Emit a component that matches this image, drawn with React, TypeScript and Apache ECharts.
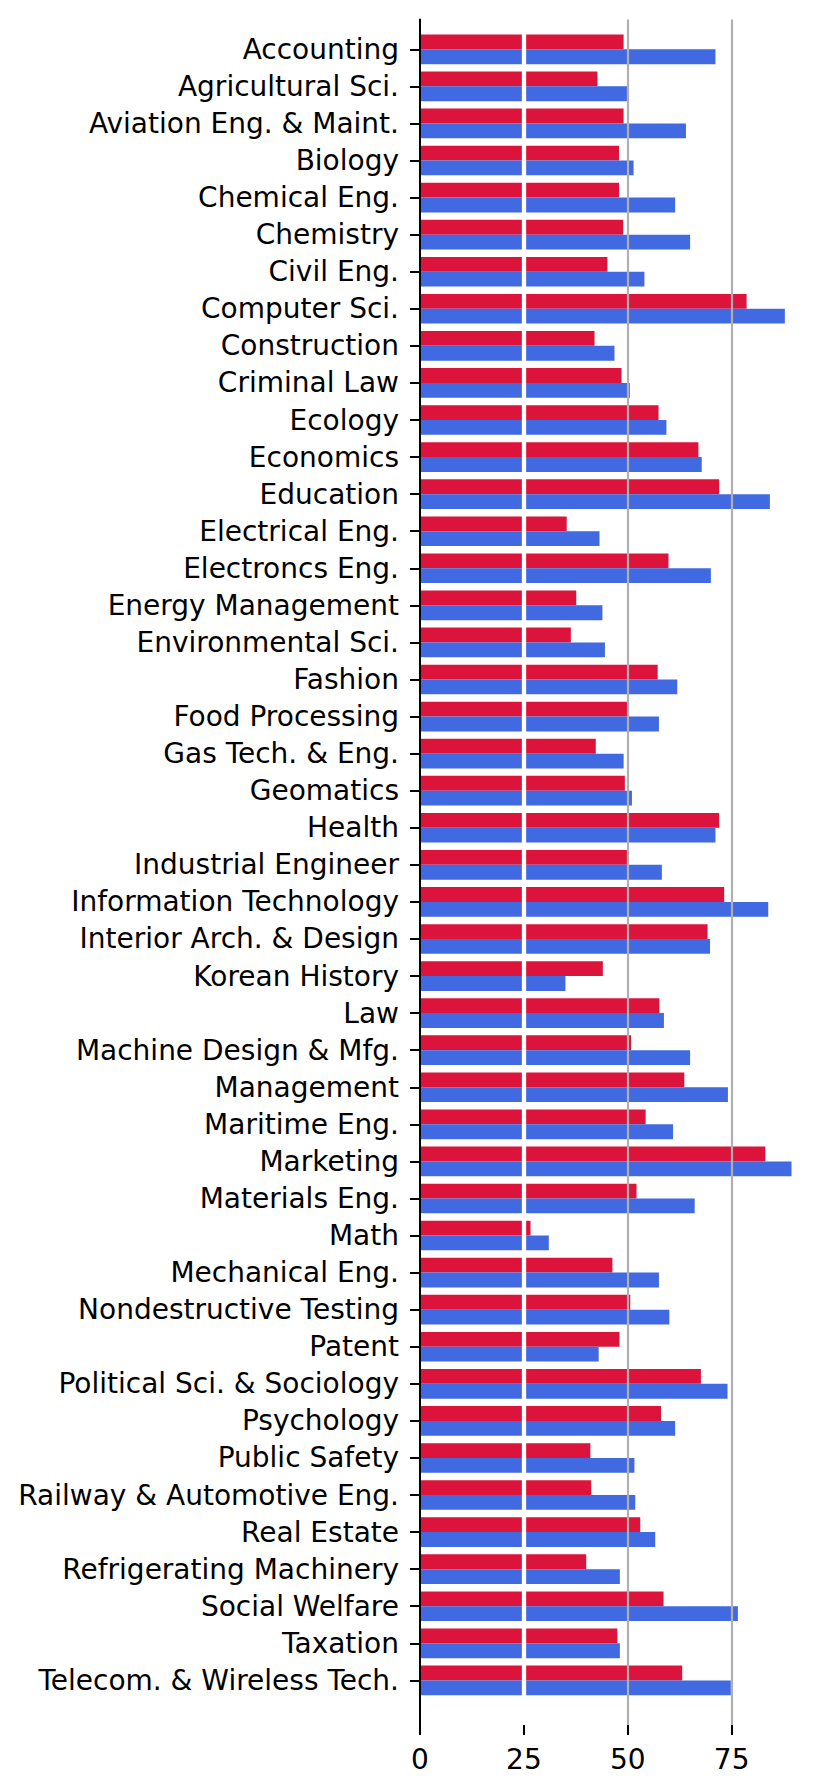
import React, { useEffect, useRef } from "react";
import * as echarts from "echarts";

const categories = [
  "Accounting", "Agricultural Sci.", "Aviation Eng. & Maint.", "Biology", "Chemical Eng.",
  "Chemistry", "Civil Eng.", "Computer Sci.", "Construction", "Criminal Law",
  "Ecology", "Economics", "Education", "Electrical Eng.", "Electroncs Eng.",
  "Energy Management", "Environmental Sci.", "Fashion", "Food Processing", "Gas Tech. & Eng.",
  "Geomatics", "Health", "Industrial Engineer", "Information Technology", "Interior Arch. & Design",
  "Korean History", "Law", "Machine Design & Mfg.", "Management", "Maritime Eng.",
  "Marketing", "Materials Eng.", "Math", "Mechanical Eng.", "Nondestructive Testing",
  "Patent", "Political Sci. & Sociology", "Psychology", "Public Safety", "Railway & Automotive Eng.",
  "Real Estate", "Refrigerating Machinery", "Social Welfare", "Taxation", "Telecom. & Wireless Tech.",
];

const redValues = [
  49.0, 42.7, 49.0, 47.9, 47.9,
  48.9, 45.1, 78.6, 42.0, 48.5,
  57.4, 67.0, 72.0, 35.3, 59.8,
  37.6, 36.3, 57.2, 50.1, 42.3,
  49.3, 72.0, 49.8, 73.2, 69.2,
  44.0, 57.6, 50.8, 63.6, 54.3,
  83.1, 52.1, 26.6, 46.3, 50.6,
  48.0, 67.6, 58.0, 41.0, 41.2,
  53.0, 40.0, 58.6, 47.5, 63.1,
];

const blueValues = [
  71.1, 49.8, 64.0, 51.4, 61.4,
  65.0, 54.0, 87.8, 46.8, 50.5,
  59.3, 67.8, 84.2, 43.2, 70.0,
  43.9, 44.5, 61.9, 57.5, 49.0,
  51.0, 71.1, 58.2, 83.8, 69.8,
  35.0, 58.7, 65.0, 74.1, 60.9,
  89.4, 66.1, 31.0, 57.5, 60.0,
  43.0, 74.0, 61.4, 51.6, 51.8,
  56.6, 48.1, 76.5, 48.1, 74.8,
];

const xTicks = [0, 25, 50, 75];
const xMax = 93.9;
const whiteLineAt = [25];

export default function App() {
  const ref = useRef<HTMLDivElement>(null);

  useEffect(() => {
    if (!ref.current) return;
    const chart = echarts.init(ref.current, null, { renderer: "svg" });
    const left = 420;
    const width = 390.2;
    const pitch = 37.07;
    const firstCenter = 49.3;
    const gridATop = firstCenter - pitch / 2;
    const gridAHeight = pitch * categories.length;
    const axesTop = 19.5;
    const axesBottom = 1725;

    chart.setOption({
      animation: false,
      backgroundColor: "#ffffff",
      textStyle: { fontFamily: "DejaVu Sans" },
      grid: [
        { left, width, top: gridATop, height: gridAHeight },
        { left, width, top: axesTop, height: axesBottom - axesTop },
      ],
      xAxis: [
        {
          type: "value",
          gridIndex: 0,
          min: 0,
          max: xMax,
          show: false,
        },
        {
          type: "value",
          gridIndex: 1,
          min: 0,
          max: xMax,
          interval: 25,
          position: "bottom",
          z: 4,
          axisLine: { show: false },
          axisTick: {
            show: true,
            length: 10,
            customValues: xTicks,
            lineStyle: { color: "#000000", width: 2 },
          },
          axisLabel: {
            customValues: xTicks,
            fontSize: 28,
            color: "#000000",
            fontFamily: "DejaVu Sans",
            margin: 20,
          },
          splitLine: {
            show: true,
            lineStyle: {
              color: ["rgba(0,0,0,0)", "rgba(0,0,0,0)", "#b0b0b0", "#b0b0b0", "rgba(0,0,0,0)"],
              width: 2.2,
            },
          },
        },
      ],
      yAxis: [
        {
          type: "category",
          gridIndex: 0,
          inverse: true,
          data: categories,
          axisLine: { show: false },
          axisTick: {
            show: true,
            alignWithLabel: true,
            length: 10,
            lineStyle: { color: "#000000", width: 2 },
          },
          axisLabel: {
            fontSize: 28,
            color: "#000000",
            fontFamily: "DejaVu Sans",
            margin: 21,
            interval: 0,
          },
          splitLine: { show: false },
        },
        {
          type: "value",
          gridIndex: 1,
          min: 0,
          max: 1,
          z: 4,
          axisLine: { show: true, onZero: false, lineStyle: { color: "#000000", width: 2 } },
          axisTick: { show: false },
          axisLabel: { show: false },
          splitLine: { show: false },
        },
      ],
      series: [
        {
          name: "Group 1",
          type: "bar",
          xAxisIndex: 0,
          yAxisIndex: 0,
          data: redValues,
          barGap: "0%",
          barCategoryGap: "20%",
          itemStyle: { color: "#dc143c" },
          markLine: {
            silent: true,
            symbol: ["none", "none"],
            label: { show: false },
            lineStyle: { color: "#ffffff", width: 4.3, type: "solid" },
            data: whiteLineAt.map((v) => ({ xAxis: v })),
          },
        },
        {
          name: "Group 2",
          type: "bar",
          xAxisIndex: 0,
          yAxisIndex: 0,
          data: blueValues,
          barGap: "0%",
          barCategoryGap: "20%",
          itemStyle: { color: "#4169e1" },
        },
      ],
    });

    return () => chart.dispose();
  }, []);

  return (
    <div
      ref={ref}
      style={{ position: "absolute", left: 0, top: 0, width: 830, height: 1792 }}
    />
  );
}
